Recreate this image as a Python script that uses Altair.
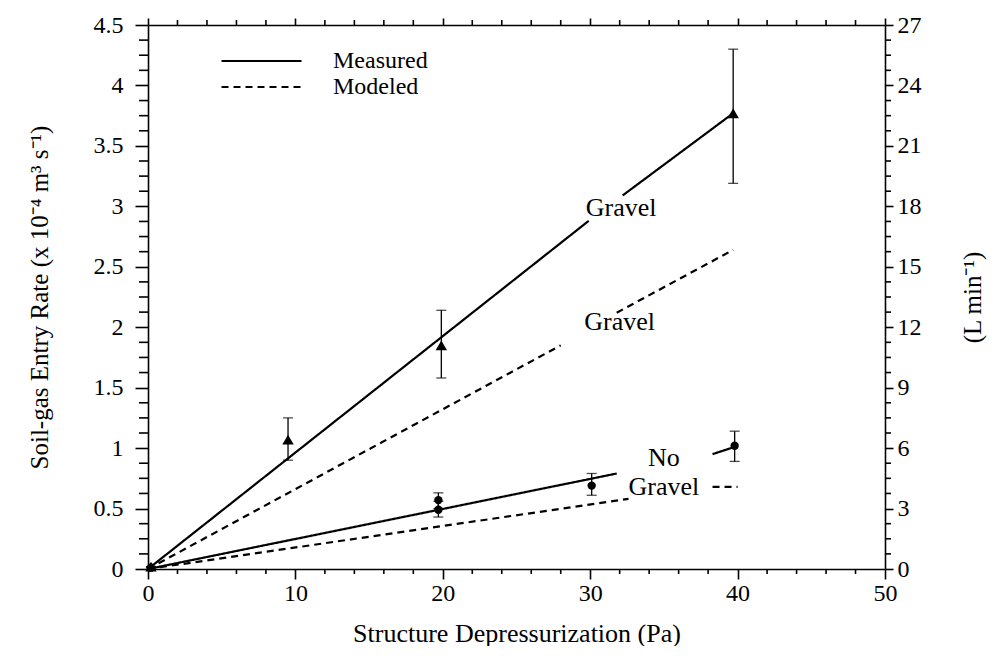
import altair as alt
import pandas as pd

# ---------------- data ----------------
# Gravel (triangles), measured points with error bars
grav_x = [0.2, 9.5, 19.9, 39.7]
grav_y = [0.02, 1.07, 1.85, 3.77]
grav_lo = [0.02, 0.90, 1.58, 3.19]
grav_hi = [0.02, 1.25, 2.14, 4.30]

# No gravel (circles), measured points with error bars
nog_x = [0.2, 19.7, 19.7, 30.1, 39.8]
nog_y = [0.01, 0.57, 0.49, 0.69, 1.02]
nog_lo = [0.01, 0.50, 0.43, 0.61, 0.89]
nog_hi = [0.01, 0.63, 0.56, 0.79, 1.14]

# line pieces (lines are broken where the in-plot labels sit)
seg_id = ["gm1", "gm1", "gm2", "gm2",
          "gd1", "gd1", "gd2", "gd2",
          "nm1", "nm1", "nm2", "nm2",
          "nd1", "nd1", "nd2", "nd2"]
seg_kind = ["Measured"] * 4 + ["Modeled"] * 4 + ["Measured"] * 4 + ["Modeled"] * 4
seg_x = [0, 29.9, 32.2, 39.7,
         0, 28.0, 31.8, 39.7,
         0, 31.8, 38.3, 39.8,
         0, 32.6, 38.3, 40.0]
seg_y = [0, 2.88, 3.09, 3.77,
         0, 1.85, 2.12, 2.64,
         0, 0.79, 0.95, 1.01,
         0, 0.58, 0.68, 0.68]

# in-plot annotations
lab_text = ["Gravel", "Gravel", "No", "Gravel"]
lab_x = [32.1, 32.0, 35.0, 35.0]
lab_y = [2.99, 2.04, 0.92, 0.68]

# axis tick values (major ones carry labels)
x_major = [0, 10, 20, 30, 40, 50]
x_minor = [2, 4, 6, 8, 12, 14, 16, 18, 22, 24, 26, 28, 32, 34, 36, 38, 42, 44, 46, 48]
y_major = [0, 0.5, 1, 1.5, 2, 2.5, 3, 3.5, 4, 4.5]
y_minor = [0.125, 0.25, 0.375, 0.625, 0.75, 0.875, 1.125, 1.25, 1.375, 1.625, 1.75, 1.875,
           2.125, 2.25, 2.375, 2.625, 2.75, 2.875, 3.125, 3.25, 3.375, 3.625, 3.75, 3.875,
           4.125, 4.25, 4.375]
r_major = [0, 3, 6, 9, 12, 15, 18, 21, 24, 27]

# ---------------- tables ----------------
pts = pd.DataFrame({
    "x": grav_x + nog_x,
    "y": grav_y + nog_y,
    "lo": grav_lo + nog_lo,
    "hi": grav_hi + nog_hi,
    "group": ["Gravel"] * len(grav_x) + ["No Gravel"] * len(nog_x),
})
lines = pd.DataFrame({"seg": seg_id, "kind": seg_kind, "x": seg_x, "y": seg_y})
labs = pd.DataFrame({"t": lab_text, "x": lab_x, "y": lab_y})
xminor_df = pd.DataFrame({"v": x_minor})
yminor_df = pd.DataFrame({"v": y_minor})

FONT = "Liberation Serif"
xs = alt.Scale(domain=[0, 50], nice=False, zero=False)
ys = alt.Scale(domain=[0, 4.5], nice=False, zero=False)
rs = alt.Scale(domain=[0, 27], nice=False, zero=False)

common = dict(domainColor="black", domainWidth=1.6, tickColor="black", tickWidth=1.6,
              labelColor="black", labelFont=FONT, labelFontSize=24, grid=False,
              labelOverlap=False, labelFlush=False, titleFont=FONT,
              titleFontWeight="normal", titleColor="black")
LBL = "format(datum.value, '~g')"

bottom_axis = alt.Axis(
    values=x_major, orient="bottom", labelExpr=LBL, tickSize=10, labelPadding=2,
    title="Structure Depressurization (Pa)", titleFontSize=26,
    titleBaseline="alphabetic", titleY=72,
    **common)
top_axis = alt.Axis(
    values=x_major, orient="top", labels=False, title=None, tickSize=7,
    **common)
left_axis = alt.Axis(
    values=y_major, orient="left", labelExpr=LBL, tickSize=13, labelPadding=12,
    title="Soil-gas Entry Rate (x 10\u207b\u2074 m\u00b3 s\u207b\u00b9)", titleFontSize=25,
    titleX=-96,
    **common)
right_axis = alt.Axis(
    values=r_major, orient="right", labelExpr=LBL, tickSize=8, labelPadding=4,
    title="(L min\u207b\u00b9)", titleFontSize=25, titleAngle=270, titleBaseline="bottom",
    titleX=100,
    **common)

line_layer = alt.Chart(lines).mark_line(color="black", strokeWidth=2.2).encode(
    x=alt.X("x:Q", scale=xs, axis=bottom_axis),
    y=alt.Y("y:Q", scale=ys, axis=left_axis),
    detail="seg:N",
    strokeDash=alt.StrokeDash(
        "kind:N",
        scale=alt.Scale(domain=["Measured", "Modeled"], range=[[1, 0], [7, 5]]),
        legend=alt.Legend(
            orient="none", legendX=72, legendY=23, title=None,
            symbolType="stroke", symbolSize=6400, symbolStrokeWidth=2.2,
            symbolStrokeColor="black", labelFont=FONT, labelFontSize=24,
            labelColor="black", labelOffset=30, clipHeight=26, rowPadding=0,
        ),
    ),
)

rule_layer = alt.Chart(pts).mark_rule(color="black", strokeWidth=1.3).encode(
    x=alt.X("x:Q", scale=xs, axis=None),
    y=alt.Y("lo:Q", scale=ys, axis=None),
    y2="hi:Q",
)
cap_lo = alt.Chart(pts).mark_tick(orient="horizontal", size=10, thickness=1.3, color="black").encode(
    x=alt.X("x:Q", scale=xs, axis=None),
    y=alt.Y("lo:Q", scale=ys, axis=None),
)
cap_hi = alt.Chart(pts).mark_tick(orient="horizontal", size=10, thickness=1.3, color="black").encode(
    x=alt.X("x:Q", scale=xs, axis=None),
    y=alt.Y("hi:Q", scale=ys, axis=None),
)
point_layer = alt.Chart(pts).mark_point(filled=True, color="black", opacity=1).encode(
    x=alt.X("x:Q", scale=xs, axis=None),
    y=alt.Y("y:Q", scale=ys, axis=None),
    shape=alt.Shape("group:N", scale=alt.Scale(domain=["Gravel", "No Gravel"],
                                                range=["triangle-up", "circle"]), legend=None),
    size=alt.Size("group:N", scale=alt.Scale(domain=["Gravel", "No Gravel"], range=[130, 70]),
                  legend=None),
)
text_layer = alt.Chart(labs).mark_text(font=FONT, fontSize=26, color="black",
                                       align="center", baseline="middle").encode(
    x=alt.X("x:Q", scale=xs, axis=None),
    y=alt.Y("y:Q", scale=ys, axis=None),
    text="t:N",
)

# minor tick marks on the four sides, drawn through the scales
TK = dict(color="black", thickness=1.6, opacity=1, clip=False)
minor_left = alt.Chart(yminor_df).mark_tick(orient="horizontal", size=9, xOffset=-4.5, **TK).encode(
    y=alt.Y("v:Q", scale=ys, axis=None), x=alt.value(0))
minor_right = alt.Chart(yminor_df).mark_tick(orient="horizontal", size=6, xOffset=3, **TK).encode(
    y=alt.Y("v:Q", scale=ys, axis=None), x=alt.value("width"))
minor_bottom = alt.Chart(xminor_df).mark_tick(orient="vertical", size=5, yOffset=2.5, **TK).encode(
    x=alt.X("v:Q", scale=xs, axis=None), y=alt.value("height"))
minor_top = alt.Chart(xminor_df).mark_tick(orient="vertical", size=5, yOffset=-2.5, **TK).encode(
    x=alt.X("v:Q", scale=xs, axis=None), y=alt.value(0))

# axis carriers (invisible marks): right and top axes
right_layer = alt.Chart(pts).mark_point(opacity=0).transform_calculate(
    yr="datum.y * 6"
).encode(
    x=alt.X("x:Q", scale=xs, axis=None),
    y=alt.Y("yr:Q", scale=rs, axis=right_axis),
)
top_layer = alt.Chart(pts).mark_point(opacity=0).encode(
    x=alt.X("x:Q", scale=xs, axis=top_axis),
    y=alt.Y("y:Q", scale=ys, axis=None),
)

chart = alt.layer(
    line_layer, rule_layer, cap_lo, cap_hi, point_layer, text_layer,
    minor_left, minor_right, minor_bottom, minor_top, right_layer, top_layer
).resolve_scale(
    x="independent", y="independent"
).properties(
    width=737, height=544,
    padding={"left": 140, "top": 17, "right": 107, "bottom": 77},
    autosize=alt.AutoSizeParams(type="none"),
).configure(font=FONT).configure_view(stroke=None)

chart.save("out.html", embed_options={"renderer": "svg", "actions": False})
